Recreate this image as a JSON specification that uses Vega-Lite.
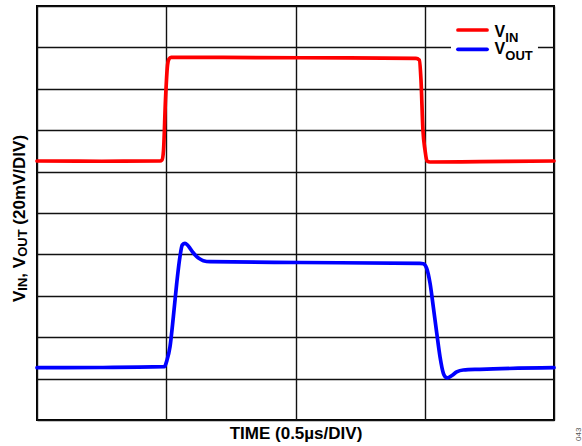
{
  "$schema": "https://vega.github.io/schema/vega-lite/v6.json",
  "width": 517,
  "height": 414,
  "autosize": "none",
  "padding": {"left": 37, "top": 6, "right": 28, "bottom": 26},
  "background": "white",
  "config": {
    "font": "Liberation Sans",
    "view": {"stroke": "black", "strokeWidth": 2}
  },
  "datasets": {
    "traces": [
      {"series": "VIN", "t": 0.0, "v": 6.256},
      {"series": "VIN", "t": 0.5, "v": 6.25},
      {"series": "VIN", "t": 0.952, "v": 6.256},
      {"series": "VIN", "t": 0.967, "v": 6.28},
      {"series": "VIN", "t": 0.979, "v": 6.52},
      {"series": "VIN", "t": 0.994, "v": 7.73},
      {"series": "VIN", "t": 1.010, "v": 8.575},
      {"series": "VIN", "t": 1.021, "v": 8.72},
      {"series": "VIN", "t": 1.037, "v": 8.76},
      {"series": "VIN", "t": 1.261, "v": 8.76},
      {"series": "VIN", "t": 2.035, "v": 8.75},
      {"series": "VIN", "t": 2.932, "v": 8.737},
      {"series": "VIN", "t": 2.958, "v": 8.696},
      {"series": "VIN", "t": 2.971, "v": 8.21},
      {"series": "VIN", "t": 2.986, "v": 7.005},
      {"series": "VIN", "t": 3.002, "v": 6.52},
      {"series": "VIN", "t": 3.017, "v": 6.256},
      {"series": "VIN", "t": 3.041, "v": 6.232},
      {"series": "VIN", "t": 3.427, "v": 6.24},
      {"series": "VIN", "t": 4.0, "v": 6.256},
      {"series": "VOUT", "t": 0.0, "v": 1.263},
      {"series": "VOUT", "t": 0.487, "v": 1.268},
      {"series": "VOUT", "t": 0.985, "v": 1.287},
      {"series": "VOUT", "t": 1.006, "v": 1.449},
      {"series": "VOUT", "t": 1.029, "v": 1.771},
      {"series": "VOUT", "t": 1.055, "v": 2.495},
      {"series": "VOUT", "t": 1.081, "v": 3.302},
      {"series": "VOUT", "t": 1.106, "v": 3.944},
      {"series": "VOUT", "t": 1.124, "v": 4.227},
      {"series": "VOUT", "t": 1.145, "v": 4.268},
      {"series": "VOUT", "t": 1.164, "v": 4.227},
      {"series": "VOUT", "t": 1.184, "v": 4.147},
      {"series": "VOUT", "t": 1.207, "v": 4.046},
      {"series": "VOUT", "t": 1.236, "v": 3.944},
      {"series": "VOUT", "t": 1.261, "v": 3.889},
      {"series": "VOUT", "t": 1.287, "v": 3.848},
      {"series": "VOUT", "t": 1.338, "v": 3.824},
      {"series": "VOUT", "t": 2.035, "v": 3.804},
      {"series": "VOUT", "t": 2.963, "v": 3.785},
      {"series": "VOUT", "t": 2.989, "v": 3.775},
      {"series": "VOUT", "t": 3.015, "v": 3.664},
      {"series": "VOUT", "t": 3.041, "v": 3.302},
      {"series": "VOUT", "t": 3.066, "v": 2.737},
      {"series": "VOUT", "t": 3.093, "v": 2.094},
      {"series": "VOUT", "t": 3.118, "v": 1.529},
      {"series": "VOUT", "t": 3.144, "v": 1.128},
      {"series": "VOUT", "t": 3.157, "v": 1.05},
      {"series": "VOUT", "t": 3.172, "v": 1.017},
      {"series": "VOUT", "t": 3.187, "v": 1.03},
      {"series": "VOUT", "t": 3.210, "v": 1.075},
      {"series": "VOUT", "t": 3.247, "v": 1.16},
      {"series": "VOUT", "t": 3.298, "v": 1.208},
      {"series": "VOUT", "t": 3.427, "v": 1.225},
      {"series": "VOUT", "t": 4.0, "v": 1.263}
    ]
  },
  "encoding": {
    "x": {"type": "quantitative"},
    "y": {"type": "quantitative"}
  },
  "layer": [
    {
      "data": {"values": [{"t1": 3.203, "t2": 3.876, "v1": 8.62, "v2": 9.66}]},
      "mark": {"type": "rect", "fill": "white"},
      "encoding": {
        "x": {"field": "t1", "type": "quantitative",
          "scale": {"domain": [0, 4], "nice": false, "zero": false},
          "axis": {"values": [0, 1, 2, 3, 4], "grid": true, "gridColor": "#111", "gridWidth": 1.4, "gridOpacity": 1,
            "labels": false, "ticks": false, "domain": false,
            "title": "TIME (0.5µs/DIV)", "titleFontSize": 17, "titleFontWeight": "bold", "titleColor": "black",
            "titleFont": "Liberation Sans", "titlePadding": 5}},
        "x2": {"field": "t2"},
        "y": {"field": "v1", "type": "quantitative",
          "scale": {"domain": [0, 10], "nice": false, "zero": false},
          "axis": {"values": [0, 1, 2, 3, 4, 5, 6, 7, 8, 9, 10], "grid": true, "gridColor": "#111", "gridWidth": 1.4, "gridOpacity": 1,
            "labels": false, "ticks": false, "domain": false, "title": null}},
        "y2": {"field": "v2"}
      }
    },
    {
      "data": {"name": "traces"},
      "mark": {"type": "line", "strokeWidth": 3.7, "interpolate": "monotone", "strokeJoin": "round", "strokeCap": "round"},
      "encoding": {
        "x": {"field": "t", "type": "quantitative"},
        "y": {"field": "v", "type": "quantitative"},
        "color": {"field": "series", "type": "nominal",
          "scale": {"domain": ["VIN", "VOUT"], "range": ["#ff0000", "#0000ff"]}, "legend": null}
      }
    },
    {
      "data": {"values": [
        {"series": "VIN", "t1": 3.257, "t2": 3.482, "v": 9.42},
        {"series": "VOUT", "t1": 3.257, "t2": 3.482, "v": 8.954}
      ]},
      "mark": {"type": "rule", "strokeWidth": 3.7, "strokeCap": "round"},
      "encoding": {
        "x": {"field": "t1", "type": "quantitative"},
        "x2": {"field": "t2"},
        "y": {"field": "v", "type": "quantitative"},
        "color": {"field": "series", "type": "nominal", "legend": null}
      }
    },
    {
      "data": {"values": [
        {"label": "V", "t": 3.54, "v": 9.263},
        {"label": "V", "t": 3.54, "v": 8.829}
      ]},
      "mark": {"type": "text", "fontSize": 16, "fontWeight": "bold", "align": "left", "baseline": "alphabetic", "color": "black", "font": "Liberation Sans"},
      "encoding": {
        "x": {"field": "t", "type": "quantitative"},
        "y": {"field": "v", "type": "quantitative"},
        "text": {"field": "label"}
      }
    },
    {
      "data": {"values": [
        {"label": "IN", "t": 3.623, "v": 9.13},
        {"label": "OUT", "t": 3.623, "v": 8.696}
      ]},
      "mark": {"type": "text", "fontSize": 13, "fontWeight": "bold", "align": "left", "baseline": "alphabetic", "color": "black", "font": "Liberation Sans"},
      "encoding": {
        "x": {"field": "t", "type": "quantitative"},
        "y": {"field": "v", "type": "quantitative"},
        "text": {"field": "label"}
      }
    },
    {
      "data": {"values": [
        {"label": "V", "t": -0.0928, "v": 2.850},
        {"label": ", V", "t": -0.0928, "v": 3.438},
        {"label": "(20mV/DIV)", "t": -0.0928, "v": 4.718}
      ]},
      "mark": {"type": "text", "fontSize": 17, "fontWeight": "bold", "angle": 270, "align": "left", "baseline": "alphabetic", "color": "black", "font": "Liberation Sans"},
      "encoding": {
        "x": {"field": "t", "type": "quantitative"},
        "y": {"field": "v", "type": "quantitative"},
        "text": {"field": "label"}
      }
    },
    {
      "data": {"values": [
        {"label": "IN", "t": -0.0774, "v": 3.124},
        {"label": "OUT", "t": -0.0774, "v": 3.941}
      ]},
      "mark": {"type": "text", "fontSize": 13, "fontWeight": "bold", "angle": 270, "align": "left", "baseline": "alphabetic", "color": "black", "font": "Liberation Sans"},
      "encoding": {
        "x": {"field": "t", "type": "quantitative"},
        "y": {"field": "v", "type": "quantitative"},
        "text": {"field": "label"}
      }
    },
    {
      "data": {"values": [{"label": "043", "t": 4.21, "v": -0.507}]},
      "mark": {"type": "text", "fontSize": 8, "angle": 270, "align": "left", "baseline": "alphabetic", "color": "#555", "font": "Liberation Sans"},
      "encoding": {
        "x": {"field": "t", "type": "quantitative"},
        "y": {"field": "v", "type": "quantitative"},
        "text": {"field": "label"}
      }
    }
  ]
}
